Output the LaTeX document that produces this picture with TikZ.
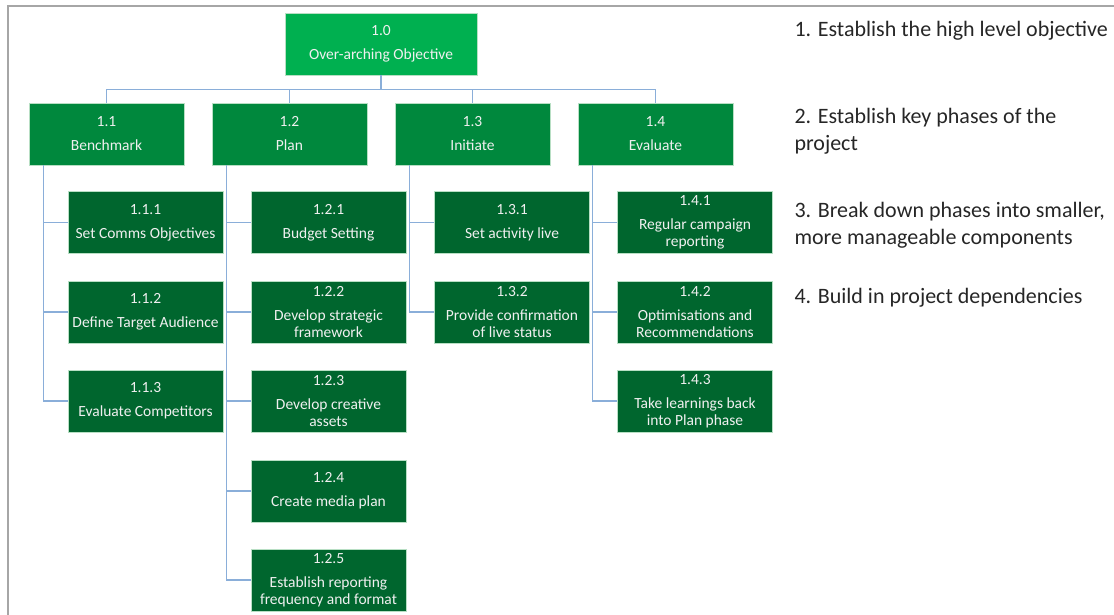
\documentclass[tikz,border=0pt]{standalone}
\usepackage{fontspec}
\setmainfont{Carlito}
\usetikzlibrary{calc,positioning}
\definecolor{topgreen}{HTML}{00B050}
\definecolor{phasegreen}{HTML}{00883D}
\definecolor{taskgreen}{HTML}{00662E}
\definecolor{edgegreen}{HTML}{B8DFC4}
\definecolor{linkblue}{HTML}{8AAED9}
\definecolor{framegrey}{HTML}{A6A6A6}
\definecolor{ink}{HTML}{262626}

\tikzset{
  box/.style={draw=edgegreen,line width=0.6pt,text=white!94!black,align=center,
    minimum width=155pt,minimum height=62pt,inner sep=2pt,
    font=\fontsize{15.5}{17}\selectfont},
  goal/.style={box,fill=topgreen,minimum width=192pt},
  phase/.style={box,fill=phasegreen},
  task/.style={box,fill=taskgreen},
  link/.style={linkblue,line width=1.4pt},
  note/.style={anchor=west,align=left,text=ink,font=\fontsize{22}{27}\selectfont}
}

\begin{document}
\begin{tikzpicture}[x=1pt,y=-1pt]
\useasboundingbox (0,0) rectangle (1114,615);
% frame of the slide
\draw[framegrey,line width=1.2pt] (8,615) -- (8,6) -- (1114,6);

% level 0
\node[goal] (obj) at (381,44) {1.0\\[7pt]Over-arching Objective};

% level 1
\node[phase] (bench) at (106.5,134) {1.1\\[7pt]Benchmark};
\node[phase] (plan) at (289.5,134) {1.2\\[7pt]Plan};
\node[phase] (init) at (472.5,134) {1.3\\[7pt]Initiate};
\node[phase] (eval) at (655.5,134) {1.4\\[7pt]Evaluate};

% level 2
\node[task] (b1) at (145.5,222.5) {1.1.1\\[7pt]Set Comms Objectives};
\node[task] (b2) at (145.5,312) {1.1.2\\[7pt]Define Target Audience};
\node[task] (b3) at (145.5,401) {1.1.3\\[7pt]Evaluate Competitors};

\node[task] (p1) at (328.5,222.5) {1.2.1\\[7pt]Budget Setting};
\node[task] (p2) at (328.5,312) {1.2.2\\[7pt]Develop strategic\\framework};
\node[task] (p3) at (328.5,401) {1.2.3\\[7pt]Develop creative\\assets};
\node[task] (p4) at (328.5,491) {1.2.4\\[7pt]Create media plan};
\node[task] (p5) at (328.5,580) {1.2.5\\[7pt]Establish reporting\\frequency and format};

\node[task] (i1) at (512,222.5) {1.3.1\\[7pt]Set activity live};
\node[task] (i2) at (512,312) {1.3.2\\[7pt]Provide confirmation\\of live status};

\node[task] (e1) at (695,222.5) {1.4.1\\[7pt]Regular campaign\\reporting};
\node[task] (e2) at (695,312) {1.4.2\\[7pt]Optimisations and\\Recommendations};
\node[task] (e3) at (695,401) {1.4.3\\[7pt]Take learnings back\\into Plan phase};

% connectors
\foreach \ph in {bench,plan,init,eval}
  \draw[link] (obj.south) -- ++(0,14) -| (\ph.north);
\foreach \t in {b1,b2,b3}
  \draw[link] ([xshift=15pt]bench.south west) |- (\t.west);
\foreach \t in {p1,p2,p3,p4,p5}
  \draw[link] ([xshift=15pt]plan.south west) |- (\t.west);
\foreach \t in {i1,i2}
  \draw[link] ([xshift=15pt]init.south west) |- (\t.west);
\foreach \t in {e1,e2,e3}
  \draw[link] ([xshift=15pt]eval.south west) |- (\t.west);

% steps on the right
\node[note] (s1) at (791,31) {1. Establish the high level objective};
\node[note] (s2) at (791,131.5) {2. Establish key phases of the\\project};
\node[note] (s3) at (791,225) {3. Break down phases into smaller,\\more manageable components};
\node[note] (s4) at (791,298) {4. Build in project dependencies};
\end{tikzpicture}
\end{document}
